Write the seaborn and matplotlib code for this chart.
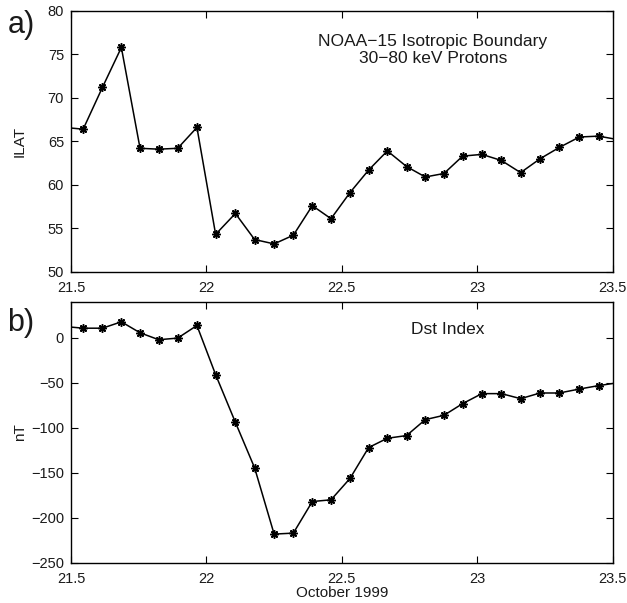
import matplotlib
matplotlib.use("Agg")
import matplotlib.pyplot as plt
import seaborn as sns
import pandas as pd

# Satellite pass times (day of October 1999), incl. one just outside each edge
day = [21.476, 21.545, 21.616, 21.686, 21.755, 21.824, 21.894, 21.965,
       22.034, 22.107, 22.178, 22.250, 22.321, 22.391, 22.460, 22.530,
       22.599, 22.668, 22.739, 22.808, 22.877, 22.946, 23.017, 23.089,
       23.160, 23.232, 23.303, 23.377, 23.448, 23.519]

ilat = [66.6, 66.4, 71.2, 75.8, 64.2, 64.1, 64.2, 66.6,
        54.3, 56.7, 53.7, 53.2, 54.2, 57.6, 56.1, 59.1,
        61.7, 63.9, 62.1, 60.9, 61.3, 63.3, 63.5, 62.8,
        61.4, 63.0, 64.3, 65.5, 65.6, 65.2]

dst = [12.5, 10.6, 10.6, 17.7, 5.5, -2.2, -0.4, 13.6,
       -41.0, -94.0, -144.6, -218.2, -217.1, -182.0, -180.1, -156.4,
       -122.0, -111.7, -108.7, -91.0, -86.2, -73.2, -62.1, -62.1,
       -67.7, -61.4, -61.4, -57.0, -53.2, -50.0]

xticks = [21.5, 22, 22.5, 23, 23.5]
xticklabels = ["21.5", "22", "22.5", "23", "23.5"]
yticks_a = [50, 55, 60, 65, 70, 75, 80]
yticks_b = [-250, -200, -150, -100, -50, 0]

df = pd.DataFrame({"day": day, "ilat": ilat, "dst": dst})

sns.set_style("ticks")
plt.rcParams["font.family"] = ["Liberation Sans", "DejaVu Sans"]
plt.rcParams["xtick.direction"] = "in"
plt.rcParams["ytick.direction"] = "in"

fig = plt.figure(figsize=(6.27, 6.03), dpi=100)
axa = fig.add_axes([0.1132, 0.5494, 0.864, 0.4324])
axb = fig.add_axes([0.1132, 0.0668, 0.864, 0.4328])

TXT = "#1a1a1a"
for ax, col in ((axa, "ilat"), (axb, "dst")):
    sns.lineplot(data=df, x="day", y=col, ax=ax, color="black", linewidth=1.1,
                 marker=(8, 2, 0), markersize=6, markeredgewidth=1.1,
                 markeredgecolor="black", markerfacecolor="black",
                 sort=False, legend=False)
    ax.set_xlim(21.5, 23.5)
    ax.set_xticks(xticks)
    ax.set_xticklabels(xticklabels)
    ax.tick_params(axis="both", which="both", top=True, right=True,
                   length=5, width=0.8, labelsize=10.5, color="black",
                   labelcolor=TXT)
    ax.tick_params(axis="x", pad=7)
    ax.tick_params(axis="y", pad=5)
    for s in ax.spines.values():
        s.set_linewidth(1.0)
        s.set_color("black")
    ax.set_xlabel("")

axa.set_ylim(50, 80)
axa.set_yticks(yticks_a)
axa.set_ylabel("ILAT", fontsize=11, color=TXT)
axa.yaxis.set_label_coords(-0.082, 0.5)
axa.text(0.668, 0.85, "NOAA\u221215 Isotropic Boundary\n30\u221280 keV Protons",
         transform=axa.transAxes, ha="center", va="center", fontsize=12.5,
         linespacing=1.15, color=TXT)

axb.set_ylim(-250, 40)
axb.set_yticks(yticks_b)
axb.set_yticklabels([("\u2212" + str(-v)) if v < 0 else str(v) for v in yticks_b])
axb.set_ylabel("nT", fontsize=11, color=TXT)
axb.yaxis.set_label_coords(-0.082, 0.5)
axb.set_xlabel("October 1999", fontsize=11, labelpad=0, color=TXT)
axb.text(0.696, 0.895, "Dst Index", transform=axb.transAxes, ha="center",
         va="center", fontsize=12.5, color=TXT)

fig.text(0.012, 0.958, "a)", fontsize=22, ha="left", va="center", color=TXT)
fig.text(0.012, 0.464, "b)", fontsize=22, ha="left", va="center", color=TXT)

fig.savefig("out.png", dpi=100)
